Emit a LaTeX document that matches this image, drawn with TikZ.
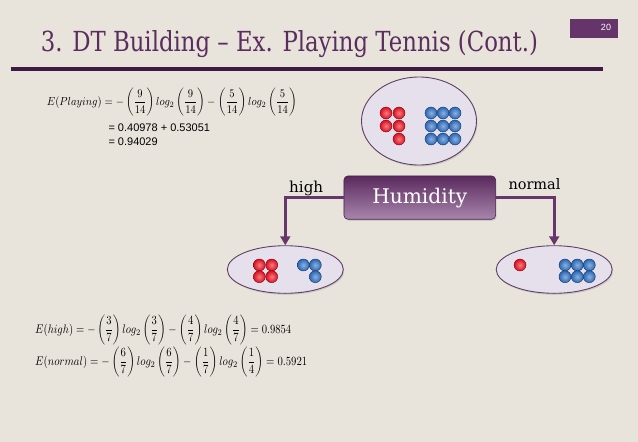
\documentclass[tikz,border=0pt]{standalone}
\usepackage{amsmath}
\usepackage{graphicx}
\usepackage{fontspec}
\setmainfont{DejaVu Serif}
\newfontfamily\sansf{Liberation Sans}
\usetikzlibrary{shapes.geometric,arrows.meta,shadows}
\definecolor{bg}{HTML}{E9E4DB}
\definecolor{ttl}{HTML}{5A2D5E}
\definecolor{rulec}{HTML}{3E1A44}
\definecolor{pbox}{HTML}{64346A}
\definecolor{conn}{HTML}{66366C}
\definecolor{efill}{HTML}{E6E0EC}
\definecolor{edraw}{HTML}{5E4064}
\definecolor{htop}{HTML}{5A2A5E}
\definecolor{hbot}{HTML}{A886AC}
\definecolor{dred}{HTML}{EE1020}
\definecolor{dblue}{HTML}{2E70C4}
\begin{document}
\begin{tikzpicture}[x=1pt,y=-1pt,
  setell/.style={ellipse, draw=edraw, line width=0.9pt, fill=efill, inner sep=0pt,
    drop shadow={shadow xshift=1pt, shadow yshift=-1.5pt, opacity=0.25}},
  reddot/.style={circle, inner sep=0pt, minimum size=12pt, inner color=dred!55!white, outer color=dred!92!black, draw=dred!50!black, line width=0.4pt},
  bluedot/.style={circle, inner sep=0pt, minimum size=12pt, inner color=dblue!55!white, outer color=dblue!92!black, draw=dblue!50!black, line width=0.4pt},
  attrbox/.style={rounded corners=4pt, top color=htop, bottom color=hbot, draw=htop!80!black, line width=0.6pt,
    inner sep=0pt, text=white, drop shadow={shadow xshift=1pt, shadow yshift=-1.5pt, opacity=0.25}},
  conn/.style={draw=conn, line width=3pt, -{Triangle[width=10pt,length=9pt]}},
  eqn/.style={anchor=west, inner sep=0pt},
  numline/.style={anchor=west, inner sep=0pt, font=\sansf\fontsize{11}{13}\selectfont},
  branch/.style={anchor=base west, inner sep=0pt}
]
\useasboundingbox (0,0) rectangle (638,442);
\fill[bg] (0,0) rectangle (638,442);

% title and header
\node[anchor=base west, inner sep=0pt, text=ttl] (title) at (40.7,51)
  {\resizebox{497pt}{21pt}{3. DT Building – Ex. Playing Tennis (Cont.)}};
\draw[rulec, line width=3.3pt] (10.7,69) -- (603,69);
\node[fill=pbox, minimum width=47.6pt, minimum height=19.4pt, inner sep=0pt, anchor=north west] (pg) at (569.7,18.3) {};
\node[text=white, inner sep=0pt, font=\sansf\fontsize{9}{10}\selectfont] (pgn) at (606,27.7) {20};

% sets
\node[setell, minimum width=115pt, minimum height=88pt] (root) at (419,121) {};
\node[setell, minimum width=116pt, minimum height=47.6pt] (hi) at (285.3,269.5) {};
\node[setell, minimum width=116pt, minimum height=47.6pt] (no) at (554.2,269.5) {};

\foreach \x/\y [count=\i] in {386/113,399/113,386/126,399/126,399/139}
  \node[reddot] (rr\i) at (\x,\y) {};
\foreach \x [count=\i] in {431,443,455}
  \foreach \y [count=\j] in {113,126,139}
    \node[bluedot] (rb\i\j) at (\x,\y) {};

\foreach \x/\y [count=\i] in {259.3/265,271.7/265,259.3/276.7,271.7/276.7}
  \node[reddot] (hr\i) at (\x,\y) {};
\foreach \x/\y [count=\i] in {303.3/265,315.3/265,315.3/276.7}
  \node[bluedot] (hb\i) at (\x,\y) {};

\node[reddot] (nr1) at (520,265) {};
\foreach \x [count=\i] in {565,577.3,589.3}
  \foreach \y [count=\j] in {265,276.7}
    \node[bluedot] (nb\i\j) at (\x,\y) {};

% attribute node
\node[attrbox, minimum width=151.7pt, minimum height=43.3pt] (hum) at (419.8,197.6)
  {\resizebox{95pt}{!}{Humidity}};

\draw[conn] (hum.west) -| (hi.north);
\draw[conn] (hum.east) -| (no.north);
\node[branch] (lhigh) at (289,192.3) {\resizebox{34pt}{!}{high}};
\node[branch] (lnormal) at (508.3,189.3) {\resizebox{52pt}{!}{normal}};

% equations
\node[eqn] (ep) at (46.7,102.5) {\resizebox*{250pt}{28pt}{$E(Playing) = -\left(\dfrac{9}{14}\right) log_2 \left(\dfrac{9}{14}\right) - \left(\dfrac{5}{14}\right) log_2 \left(\dfrac{5}{14}\right)$}};
\node[numline] (ep2) at (108.3,127.7) {= 0.40978 + 0.53051};
\node[numline] (ep3) at (108.3,141.7) {= 0.94029};

\node[eqn] (eh) at (35,330) {\resizebox*{256pt}{30pt}{$E(high) = -\left(\dfrac{3}{7}\right) log_2\left(\dfrac{3}{7}\right) - \left(\dfrac{4}{7}\right) log_2\left(\dfrac{4}{7}\right) = 0.9854$}};
\node[eqn] (en) at (35,362) {\resizebox*{272pt}{30pt}{$E(normal) = -\left(\dfrac{6}{7}\right) log_2\left(\dfrac{6}{7}\right) - \left(\dfrac{1}{7}\right) log_2\left(\dfrac{1}{4}\right) = 0.5921$}};
\end{tikzpicture}
\end{document}
